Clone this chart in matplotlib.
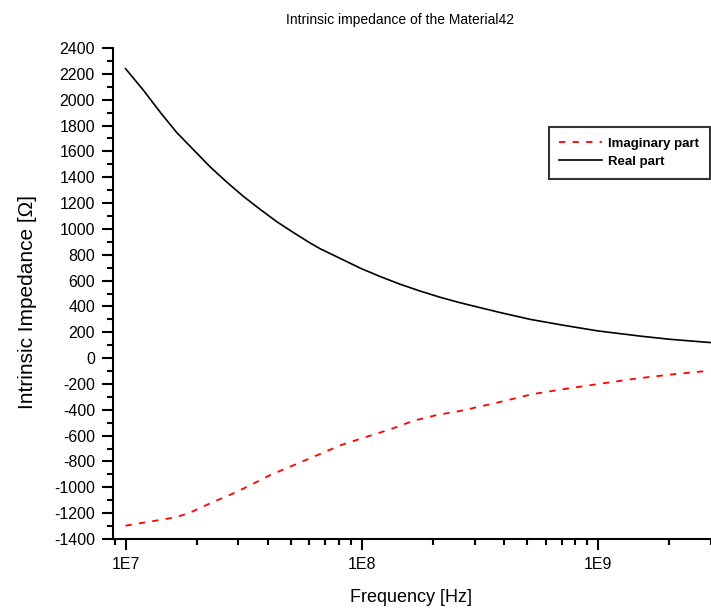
import matplotlib
matplotlib.use("Agg")
import matplotlib.pyplot as plt
from matplotlib.ticker import FixedLocator, LogLocator, NullFormatter, FuncFormatter, MultipleLocator

plt.rcParams['font.family'] = ['Liberation Sans', 'DejaVu Sans']
plt.rcParams['axes.unicode_minus'] = False

# Data
real_freq = [1.0e7, 1.194e7, 1.406e7, 1.648e7, 1.945e7, 2.28e7, 2.69e7, 3.16e7, 3.72e7,
             4.37e7, 5.15e7, 6.05e7, 6.68e7, 8.13e7, 9.87e7, 1.2e8, 1.46e8, 1.77e8,
             2.15e8, 2.61e8, 3.17e8, 3.86e8, 5.15e8, 7.08e8, 1.0e9, 1.51e9, 2.0e9, 3.0e9]
real_vals = [2240, 2070, 1900, 1745, 1610, 1480, 1360, 1250, 1150,
             1055, 970, 890, 845, 770, 695, 630, 570, 518,
             470, 428, 390, 352, 300, 255, 210, 170, 146, 120]

imag_freq = [1e7, 1.63e7, 1.85e7, 2.28e7, 2.97e7, 4.1e7, 5.86e7, 8.2e7, 1.05e8,
             1.32e8, 1.66e8, 2.08e8, 2.61e8, 3.73e8, 5.3e8, 7.5e8, 1.05e9,
             1.48e9, 2.08e9, 2.98e9]
imag_vals = [-1297, -1232, -1201, -1124, -1034, -905, -785, -672, -608,
             -551, -484, -440, -409, -345, -278, -234, -195,
             -156, -125, -97]

y_ticks = list(range(-1400, 2401, 200))
x_major = [1e7, 1e8, 1e9]
x_labels = ["1E7", "1E8", "1E9"]

title = "Intrinsic impedance of the Material42"
xlabel = "Frequency [Hz]"
ylabel = "Intrinsic Impedance [Ω]"

fig = plt.figure(figsize=(7.11, 6.15), dpi=100)
ax = fig.add_axes([113/711, 76/615, 598/711, 491/615])

ax.plot(imag_freq, imag_vals, color='red', linestyle=(0, (3.5, 4)), linewidth=1.3,
        label='Imaginary part')
ax.plot(real_freq, real_vals, color='black', linewidth=1.2, label='Real part')

ax.set_xscale('log')
ax.set_xlim(8.85e6, 3.0e9)
ax.set_ylim(-1400, 2400)

ax.xaxis.set_major_locator(FixedLocator(x_major))
ax.xaxis.set_major_formatter(FuncFormatter(lambda v, p: x_labels[x_major.index(v)] if v in x_major else ""))
ax.xaxis.set_minor_locator(LogLocator(base=10, subs=range(2, 10)))
ax.xaxis.set_minor_formatter(NullFormatter())

ax.yaxis.set_major_locator(FixedLocator(y_ticks))
ax.yaxis.set_minor_locator(MultipleLocator(100))

for s in ['top', 'right']:
    ax.spines[s].set_visible(False)
for s in ['left', 'bottom']:
    ax.spines[s].set_linewidth(1.5)

ax.tick_params(axis='both', which='major', length=8, width=1.5, labelsize=11.5, pad=5)
ax.tick_params(axis='both', which='minor', length=4, width=1.5)

fig.text(400/711, 1 - 20/615, title, ha='center', va='center', fontsize=10)
fig.text(411/711, 1 - 598/615, xlabel, ha='center', va='center', fontsize=13)
fig.text(28/711, 1 - 302/615, ylabel, ha='center', va='center', rotation=90, fontsize=15)

leg = ax.legend(loc='upper right', bbox_to_anchor=(0.998, 0.839), borderaxespad=0,
                fancybox=False, frameon=True, handlelength=3.2,
                prop={'size': 9.5, 'weight': 'bold'}, borderpad=0.8, labelspacing=0.45,
                handletextpad=0.5)
leg.get_frame().set_edgecolor('black')
leg.get_frame().set_linewidth(1.5)
for t in leg.get_texts():
    t.set_fontstretch('expanded')

fig.savefig('out.png', dpi=100)
